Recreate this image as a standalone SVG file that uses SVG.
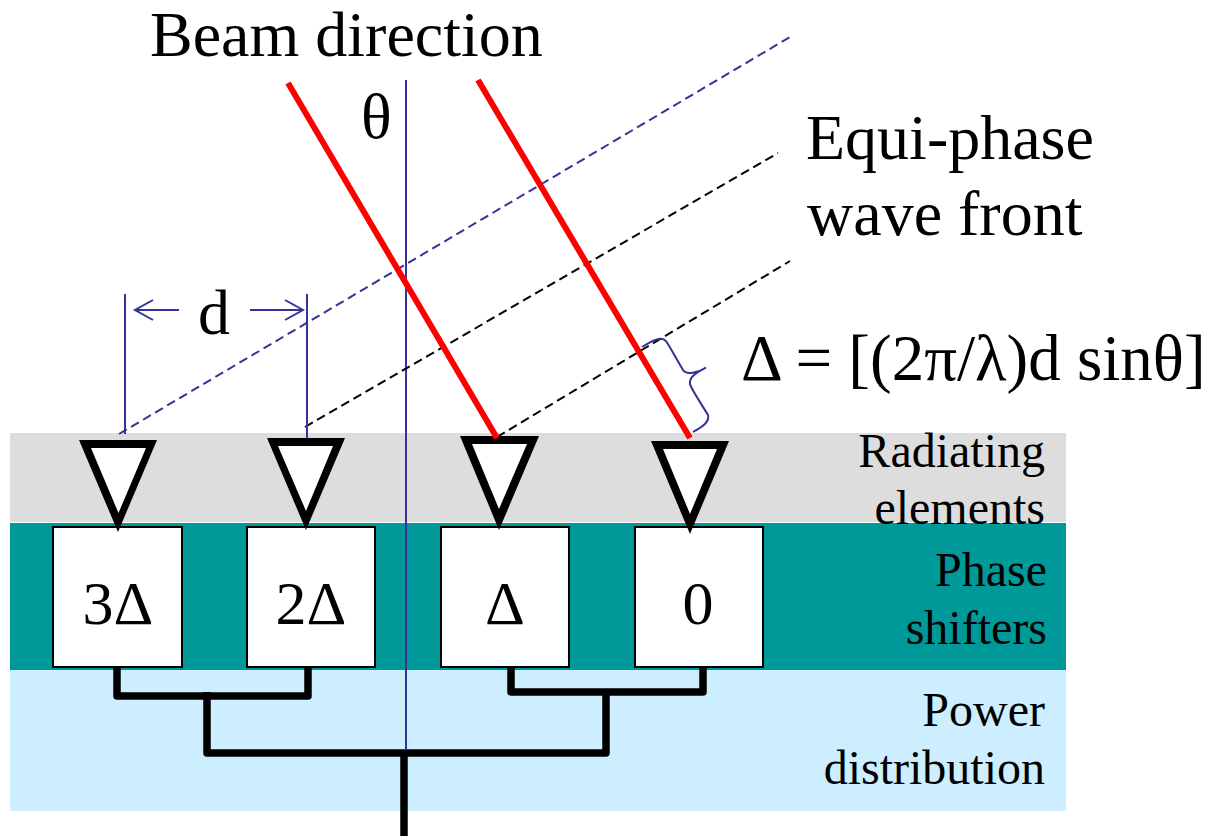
<svg xmlns="http://www.w3.org/2000/svg" width="1210" height="836" viewBox="0 0 1210 836">
<style>
text{font-family:"Liberation Serif","Times New Roman",serif;fill:#000}
.big{font-size:64px}
.side{font-size:48px;text-anchor:end}
.box{font-size:62px;text-anchor:middle}
.ps{fill:#fff;stroke:#000;stroke-width:2}
.el{fill:#000;fill-rule:evenodd}
.inner{fill:#fff}
.feed{fill:none;stroke:#000;stroke-width:7.5;stroke-linejoin:round}
.red{stroke:#f00;stroke-width:6;fill:none}
.blue{stroke:#333399;stroke-width:2;fill:none}
.dashb{stroke:#333399;stroke-width:2;stroke-dasharray:9 5;fill:none}
.dashk{stroke:#000;stroke-width:2;stroke-dasharray:9 5;fill:none}
</style>
<defs><marker id="a" markerWidth="24" markerHeight="24" refX="20" refY="12" orient="auto" markerUnits="userSpaceOnUse"><path d="M2 2L20 12L2 22" fill="none" stroke="#333399" stroke-width="2"/></marker></defs>
<g id="bands">
<rect x="10" y="433" width="1056" height="89" fill="#ddd"/>
<rect x="10" y="523" width="1056" height="147" fill="#099"/>
<rect x="10" y="670" width="1056" height="141" fill="#cef"/>
</g>
<g id="ps1"><rect class="ps" x="53" y="527" width="129" height="140"/><text class="box" x="118" y="624">3Δ</text></g>
<g id="ps2"><rect class="ps" x="247" y="527" width="128" height="140"/><text class="box" x="311" y="624">2Δ</text></g>
<g id="ps3"><rect class="ps" x="441" y="527" width="128" height="140"/><text class="box" x="505" y="624">Δ</text></g>
<g id="ps4"><rect class="ps" x="635" y="527" width="128" height="140"/><text class="box" x="698" y="624">0</text></g>
<g id="el1"><path class="el" d="M79 440H157L118 532Z"/><path class="inner" d="M91 448H146L118.500 513Z"/></g>
<g id="el2"><path class="el" d="M267 438H345L306 530Z"/><path class="inner" d="M278 446H333L306 511Z"/></g>
<g id="el3"><path class="el" d="M460 436H539L499 530Z"/><path class="inner" d="M472 444H527L499 509Z"/></g>
<g id="el4"><path class="el" d="M651 441H729L690 534Z"/><path class="inner" d="M663 449H717L690 514Z"/></g>
<g id="connectors">
<path class="feed" d="M117 667V696H308V667M511 667V692H703V667M207 692V753H606V692"/>
<path class="feed" d="M404 750V836" stroke-linejoin="miter"/>
<path class="blue" d="M406 80V750"/>
<path class="dashb" d="M119 434L790 37"/>
<path class="dashk" d="M305 427L778 153M497 437L790 261"/>
<path class="red" d="M288 83L497 438M478 80L690 438"/>
<path class="blue" d="M125 294V434M307 294V438"/>
<path class="blue" marker-end="url(#a)" d="M179 310H135"/>
<path class="blue" marker-end="url(#a)" d="M250 310H303"/>
<path class="blue" d="M642 347C650 342 658 338 662 339C665 339 666 341 668 344L683 370C686 375 698 373 706 367.500C698 372 689 376 690 384C691 389 704 408 708 415C710 422 702 427 693 432"/>
</g>
<g id="labels">
<text class="big" x="150" y="56">Beam direction</text>
<text class="big" x="361" y="138">θ</text>
<text class="big" x="806" y="159">Equi-phase</text>
<text class="big" x="807" y="235">wave front</text>
<text class="big" x="198" y="334">d</text>
<text class="big" x="741" y="380" style="font-size:65px">Δ = [(2π/λ)d sinθ]</text>
<text class="side" x="1045" y="467">Radiating</text>
<text class="side" x="1045" y="524">elements</text>
<text class="side" x="1047" y="586">Phase</text>
<text class="side" x="1047" y="644">shifters</text>
<text class="side" x="1045" y="726">Power</text>
<text class="side" x="1045" y="784">distribution</text>
</g>
</svg>
